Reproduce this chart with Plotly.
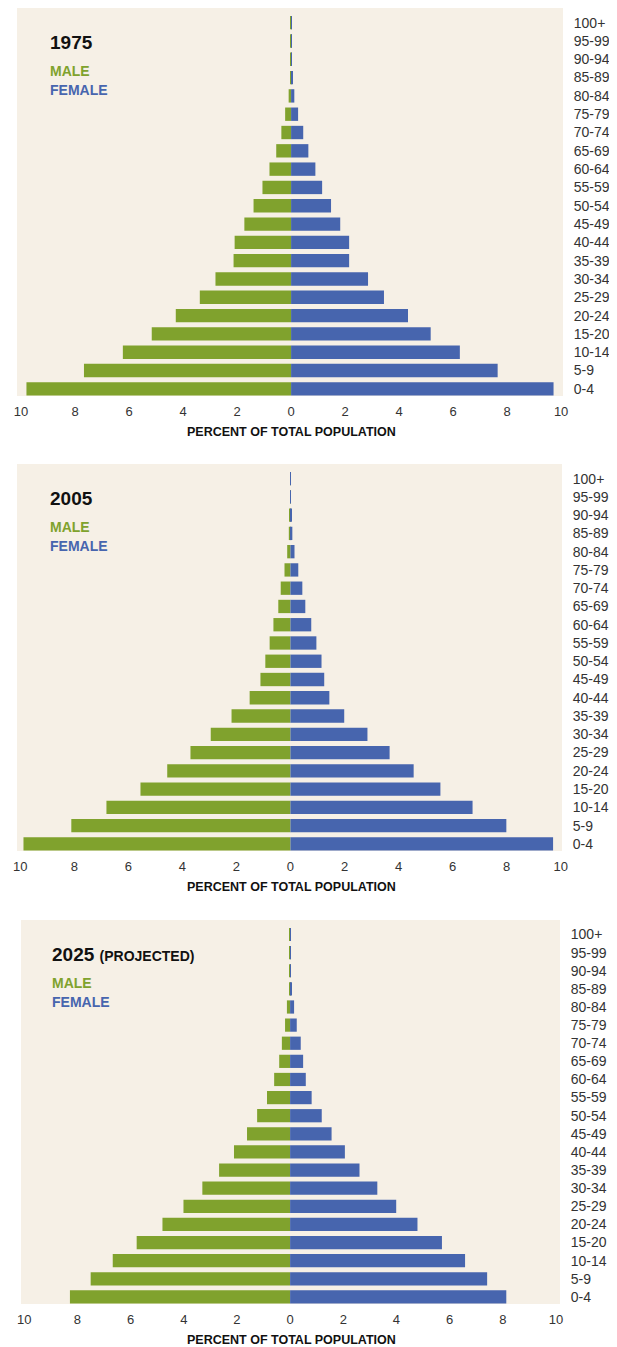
import plotly.graph_objects as go

# The page body has an 8px margin, so the figure is drawn 8px in from the top-left.
OFF = 8
W, H = 617 - OFF, 1347 - OFF

ages = ["0-4", "5-9", "10-14", "15-20", "20-24", "25-29", "30-34", "35-39", "40-44",
        "45-49", "50-54", "55-59", "60-64", "65-69", "70-74", "75-79", "80-84",
        "85-89", "90-94", "95-99", "100+"]

male_1975 = [9.80, 7.67, 6.23, 5.16, 4.27, 3.38, 2.80, 2.13, 2.09, 1.73, 1.39, 1.06,
             0.80, 0.55, 0.36, 0.22, 0.09, 0.04, 0.03, 0.01, 0.01]
female_1975 = [9.72, 7.65, 6.25, 5.17, 4.33, 3.44, 2.85, 2.15, 2.15, 1.82, 1.48, 1.15,
               0.90, 0.64, 0.45, 0.26, 0.12, 0.04, 0.03, 0.01, 0.01]

male_2005 = [9.88, 8.11, 6.81, 5.55, 4.56, 3.70, 2.95, 2.18, 1.51, 1.11, 0.93, 0.77,
             0.63, 0.45, 0.36, 0.22, 0.12, 0.06, 0.03, 0.01, 0.01]
female_2005 = [9.72, 7.99, 6.74, 5.55, 4.56, 3.67, 2.85, 1.99, 1.44, 1.25, 1.15, 0.96,
               0.77, 0.55, 0.44, 0.29, 0.15, 0.07, 0.04, 0.01, 0.01]

male_2025 = [8.28, 7.50, 6.67, 5.77, 4.80, 4.01, 3.30, 2.67, 2.11, 1.62, 1.24, 0.87,
             0.60, 0.41, 0.31, 0.19, 0.12, 0.04, 0.04, 0.01, 0.01]
female_2025 = [8.13, 7.41, 6.58, 5.71, 4.79, 3.99, 3.28, 2.61, 2.06, 1.56, 1.19, 0.81,
               0.59, 0.49, 0.40, 0.25, 0.15, 0.07, 0.03, 0.02, 0.01]

x_ticks = [-10, -8, -6, -4, -2, 0, 2, 4, 6, 8, 10]
x_tick_labels = ["10", "8", "6", "4", "2", "0", "2", "4", "6", "8", "10"]

panels = [
    {"year": "1975", "sub": "", "male": male_1975, "female": female_1975,
     "px": (17, 563), "py": (8, 396), "xr": [-10.15, 10.07], "tx": 31},
    {"year": "2005", "sub": "", "male": male_2005, "female": female_2005,
     "px": (17, 562), "py": (464, 851), "xr": [-10.12, 10.05], "tx": 31},
    {"year": "2025", "sub": "(PROJECTED)", "male": male_2025, "female": female_2025,
     "px": (21, 560), "py": (920, 1304), "xr": [-10.12, 10.15], "tx": 29},
]

GREEN = "#80A22D"
BLUE = "#4765AE"
BG = "#F6F0E6"
FONT = "Liberation Sans, Arial, Helvetica, sans-serif"


def fx(px):
    return (px - OFF) / W


def fy(py):
    return 1 - (py - OFF) / H


fig = go.Figure()
annotations = []
layout_axes = {}
yvals = list(range(len(ages)))

for i, p in enumerate(panels):
    n = "" if i == 0 else str(i + 1)
    xa, ya = "x" + n, "y" + n
    fig.add_trace(go.Bar(y=yvals, x=[-v for v in p["male"]], orientation="h",
                         marker=dict(color=GREEN, line=dict(width=0)), width=0.73,
                         xaxis=xa, yaxis=ya, showlegend=False, name="Male",
                         customdata=p["male"],
                         hovertemplate="%{customdata}%<extra>Male</extra>"))
    fig.add_trace(go.Bar(y=yvals, x=p["female"], orientation="h",
                         marker=dict(color=BLUE, line=dict(width=0)), width=0.73,
                         xaxis=xa, yaxis=ya, showlegend=False, name="Female",
                         hovertemplate="%{x}%<extra>Female</extra>"))
    x0, x1 = p["px"]
    y0, y1 = p["py"]
    layout_axes["xaxis" + n] = dict(
        domain=[fx(x0), fx(x1)], range=p["xr"], anchor=ya, automargin=False,
        tickvals=x_ticks, ticktext=x_tick_labels, showgrid=False, zeroline=False,
        showline=False, ticks="outside", ticklen=3, tickcolor="rgba(0,0,0,0)",
        tickfont=dict(family=FONT, size=13, color="#333333"), fixedrange=True)
    layout_axes["yaxis" + n] = dict(
        domain=[fy(y1), fy(y0)], range=[-0.39, 20.8], anchor=xa, automargin=False,
        side="right", tickvals=yvals, ticktext=ages, showgrid=False, zeroline=False,
        showline=False, ticks="outside", ticklen=7, tickcolor="rgba(0,0,0,0)",
        tickfont=dict(family=FONT, size=14, color="#333333"), fixedrange=True)

    title = "<b>" + p["year"] + "</b>"
    if p["sub"]:
        title += " <b><span style='font-size:14px'>" + p["sub"] + "</span></b>"
    tx = x0 + p["tx"]
    annotations.append(dict(text=title, x=fx(tx), y=fy(y0 + 34),
                            xref="paper", yref="paper", xanchor="left", yanchor="middle",
                            showarrow=False, font=dict(family=FONT, size=19, color="#111111")))
    annotations.append(dict(text="<b>MALE</b>", x=fx(tx), y=fy(y0 + 63),
                            xref="paper", yref="paper", xanchor="left", yanchor="middle",
                            showarrow=False, font=dict(family=FONT, size=14, color=GREEN)))
    annotations.append(dict(text="<b>FEMALE</b>", x=fx(tx), y=fy(y0 + 82),
                            xref="paper", yref="paper", xanchor="left", yanchor="middle",
                            showarrow=False, font=dict(family=FONT, size=14, color=BLUE)))
    annotations.append(dict(text="<b>PERCENT OF TOTAL POPULATION</b>", x=fx(291),
                            y=fy(y1 + 36), xref="paper", yref="paper",
                            xanchor="center", yanchor="middle", showarrow=False,
                            font=dict(family=FONT, size=12.5, color="#111111")))
    fig.add_shape(type="rect", xref="paper", yref="paper", x0=fx(x0), x1=fx(x1),
                  y0=fy(y1), y1=fy(y0), fillcolor=BG, line=dict(width=0),
                  layer="below")

fig.update_layout(
    width=W, height=H, margin=dict(l=0, r=0, t=0, b=0, autoexpand=False),
    paper_bgcolor="white", plot_bgcolor="rgba(0,0,0,0)",
    barmode="relative", bargap=0.27, annotations=annotations,
    font=dict(family=FONT), **layout_axes)

fig.write_html("out.html")
